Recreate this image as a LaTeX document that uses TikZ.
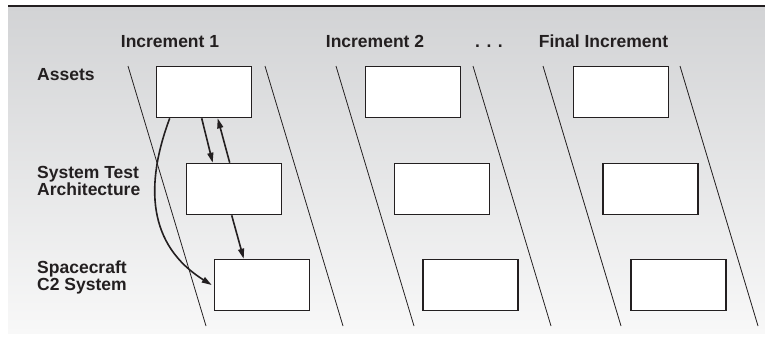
\documentclass[tikz,border=0pt]{standalone}
\usepackage{fontspec}
\setmainfont{Liberation Sans}
\usetikzlibrary{arrows.meta,calc}
\definecolor{ink}{HTML}{231F20}
\definecolor{bgtop}{HTML}{D2D3D5}
\definecolor{bgbot}{HTML}{F8F8F8}
\begin{document}
\begin{tikzpicture}[x=1pt,y=-1pt,
  box/.style={draw=ink,line width=1.6pt,fill=white,minimum width=95pt,minimum height=51pt,inner sep=0pt},
  lbl/.style={font=\fontsize{17.5}{17}\selectfont\bfseries,text=ink,inner sep=0pt},
  rowlbl/.style={lbl,align=left,anchor=base west},
  head/.style={lbl,anchor=base},
  slant/.style={draw=ink,line width=0.8pt},
  conn/.style={draw=ink,line width=1.6pt,-{Triangle[length=10pt,width=6pt]}}]
\useasboundingbox (0,0) rectangle (765,345);
% background
\shade[top color=bgtop,bottom color=bgbot] (8,6) rectangle (765,333);
\draw[ink,line width=1.5pt] (8,6) -- (765,6);
% headings
\node[head] (h1) at (170,48) {Increment 1};
\node[head] (h2) at (375,48) {Increment 2};
\node[head] (h3) at (489,48) {. . .};
\node[head] (h4) at (603.5,48) {Final Increment};
% row labels (base anchor = baseline of last line)
\node[rowlbl] (r1) at (37,81) {Assets};
\node[rowlbl] (r2) at (37,195) {System Test\\Architecture};
\node[rowlbl] (r3) at (37,290) {Spacecraft\\C2 System};
% slanted separators
\foreach \x [count=\i] in {128,265,336,473,543,680}{
  \coordinate (s\i a) at (\x,66);
  \coordinate (s\i b) at (\x+78,326);
  \draw[slant] (s\i a) -- (s\i b);
}
% boxes
\node[box] (a1) at (204,92) {};
\node[box] (a2) at (413,92) {};
\node[box] (a3) at (621,92) {};
\node[box] (b1) at (234,189) {};
\node[box] (b2) at (442,189) {};
\node[box] (b3) at (650.5,189) {};
\node[box] (c1) at (262,285) {};
\node[box] (c2) at (470.5,285) {};
\node[box] (c3) at (678.5,285) {};
% connectors
\draw[conn] ($(a1.south west)+(46,0)$) -- ($(b1.north west)+(27,0)$);
\draw[conn] ($(b1.north west)+(44,0)$) -- ($(a1.south west)+(62,0)$);
\draw[conn] ($(b1.south west)+(46,0)$) -- ($(c1.north west)+(30,0)$);
\draw[conn] ($(a1.south west)+(14,0)$) .. controls +(-25,67) and +(-64,-40) .. ($(c1.west)+(-2,0)$);
\end{tikzpicture}
\end{document}
